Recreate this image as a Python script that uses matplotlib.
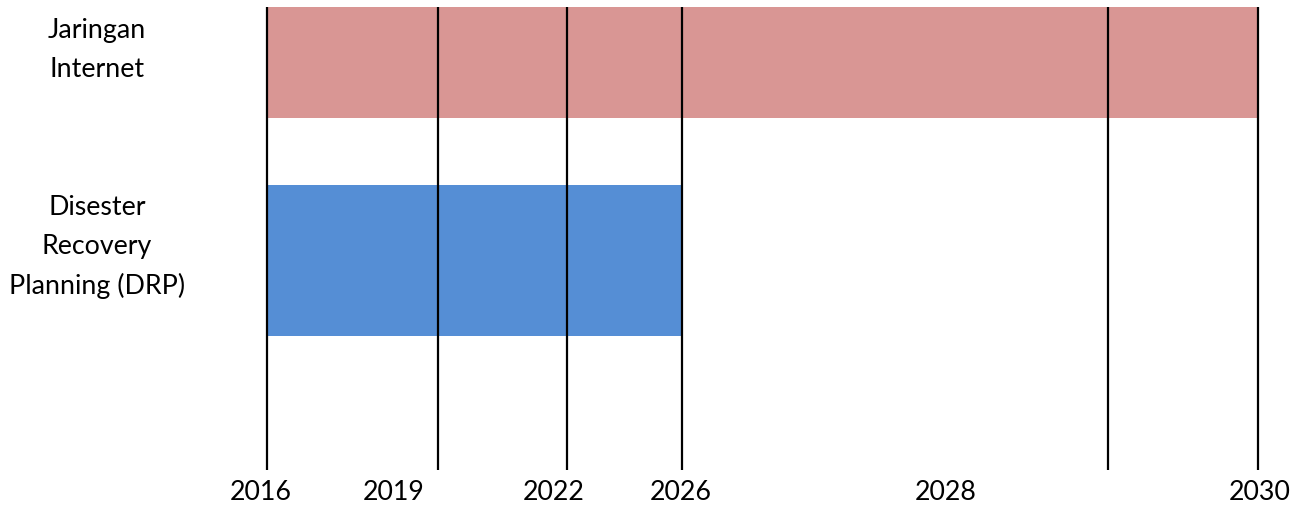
import matplotlib
matplotlib.use("Agg")
import matplotlib.pyplot as plt
import numpy as np

# ---- data ----
tasks = ["Jaringan\nInternet", "Disester\nRecovery\nPlanning (DRP)"]
task_start = [2016, 2016]
task_end = [2030, 2026]
task_colors = ["#D99694", "#558ED5"]
tick_years = [2016, 2019, 2022, 2026, 2028, 2030]

# ---- layout (figure pixel space) ----
W, H = 1307, 511
line_x = [267, 438, 567, 682, 1108, 1258]      # vertical grid lines
label_x = [261, 394, 554, 681, 946, 1260]      # year label centers
row_top = [7, 185]
row_h = [111, 151]
task_label_y = [50, 247]
line_top, line_bottom = 7, 470
year_label_y = 492

def year_to_x(y):
    return np.interp(y, tick_years, line_x)

fig = plt.figure(figsize=(W / 100, H / 100), dpi=100)
ax = fig.add_axes([0, 0, 1, 1])
ax.set_xlim(0, W)
ax.set_ylim(H, 0)
ax.axis("off")

font = dict(family=["Lato", "DejaVu Sans"], fontsize=19.3, color="black")

for i, t in enumerate(tasks):
    x0 = year_to_x(task_start[i])
    x1 = year_to_x(task_end[i])
    ax.barh(row_top[i] + row_h[i] / 2, x1 - x0, left=x0, height=row_h[i],
            color=task_colors[i], edgecolor="none", zorder=1)
    ax.text(97, task_label_y[i], t, ha="center", va="center",
            linespacing=1.7, **font)

for yr, lx, tx in zip(tick_years, line_x, label_x):
    ax.plot([lx, lx], [line_top, line_bottom], color="black", lw=1.6,
            solid_capstyle="butt", zorder=2)
    ax.text(tx, year_label_y, str(yr), ha="center", va="center", **font)

fig.savefig("out.png", dpi=100)
